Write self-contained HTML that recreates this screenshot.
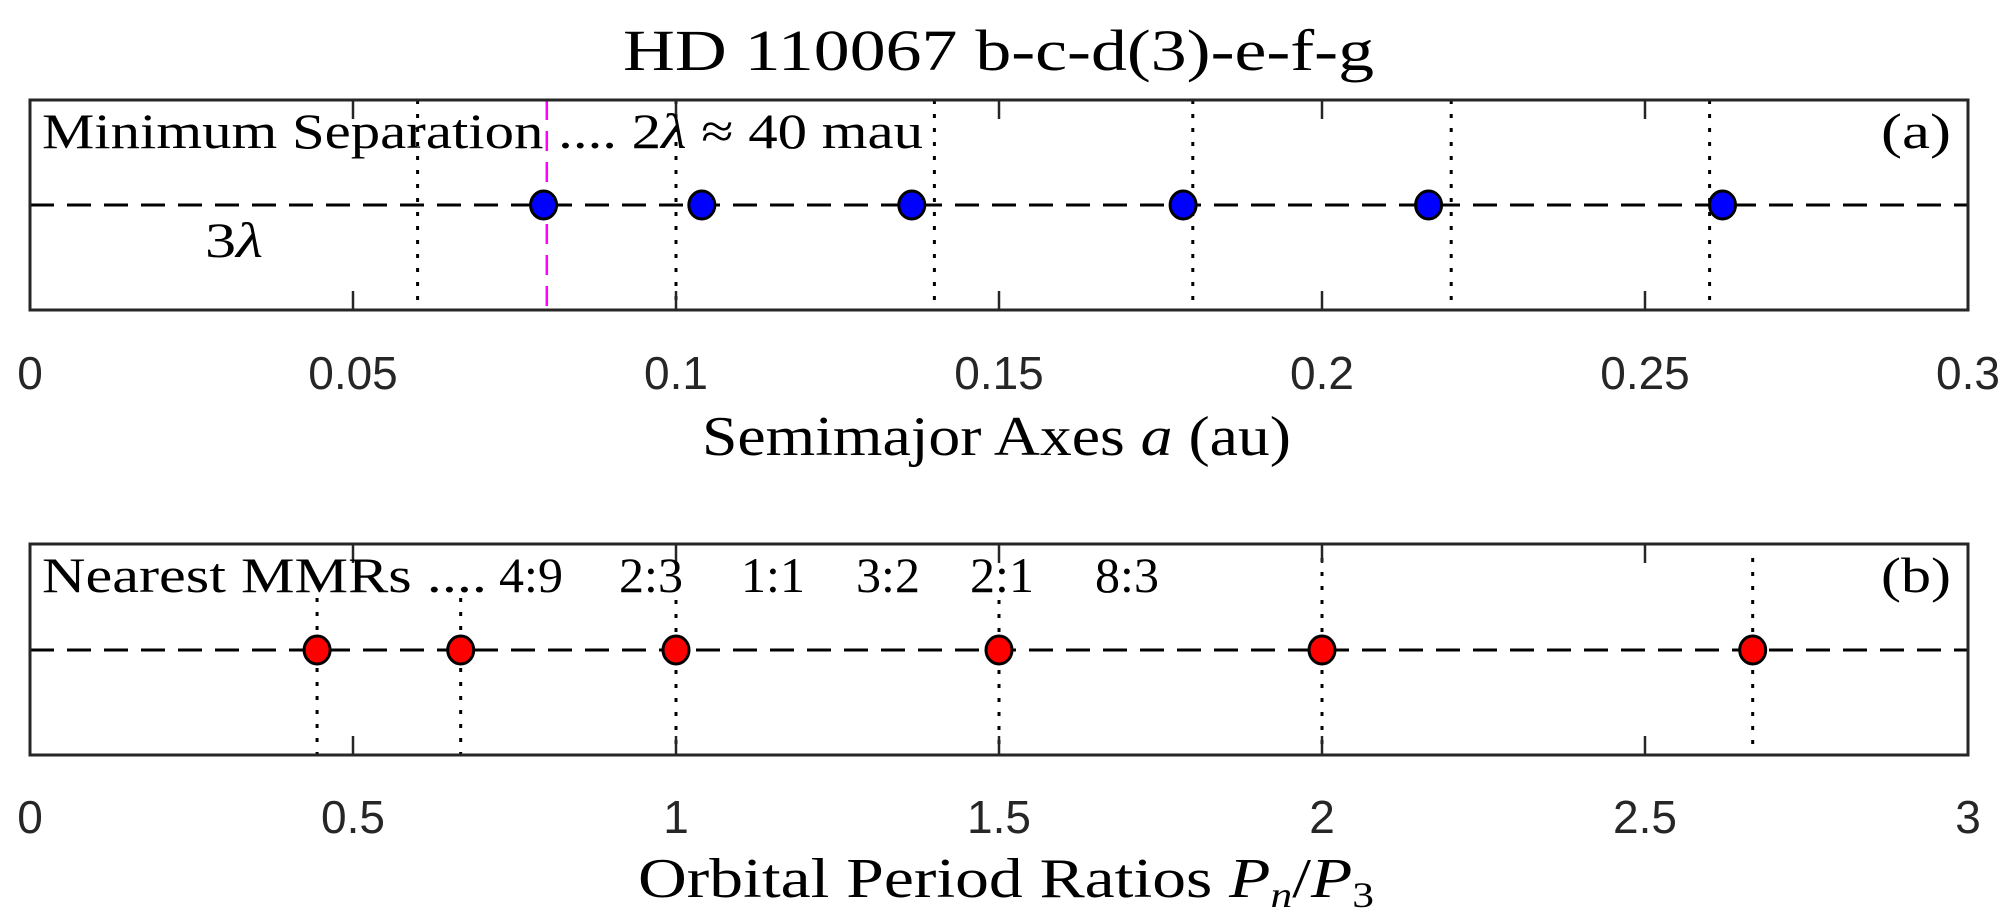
<!DOCTYPE html>
<html><head><meta charset="utf-8"><style>
html,body{margin:0;padding:0;background:#fff;}
svg{display:block;}
.serif{font-family:"Liberation Serif","DejaVu Serif",serif;fill:#000;}
.tick{font-family:"Liberation Sans","DejaVu Sans",sans-serif;fill:#262626;font-size:46px;}
</style></head><body>
<svg id="chart" width="2010" height="922" viewBox="0 0 2010 922" xmlns="http://www.w3.org/2000/svg">
<text class="serif" x="623" y="70" font-size="58" textLength="751" lengthAdjust="spacingAndGlyphs">HD 110067  b-c-d(3)-e-f-g</text>
</svg>
<script>
// Panel (a) data
const aTicks = [0, 0.05, 0.1, 0.15, 0.2, 0.25, 0.3];
const aTickLabels = ["0", "0.05", "0.1", "0.15", "0.2", "0.25", "0.3"];
const aPlanets = [0.0795, 0.1040, 0.1365, 0.1785, 0.2165, 0.2620];
const aGuides = [0.06, 0.10, 0.14, 0.18, 0.22, 0.26];
const aMinSep = 0.08;
// Panel (b) data
const bTicks = [0, 0.5, 1, 1.5, 2, 2.5, 3];
const bTickLabels = ["0", "0.5", "1", "1.5", "2", "2.5", "3"];
const bRatios = [0.4444, 0.6667, 1.0, 1.5, 2.0, 2.6667];
const bGuides = [0.4444, 0.6667, 1.0, 1.5, 2.0, 2.6667];

const NS = "http://www.w3.org/2000/svg";
const svg = document.getElementById('chart');
const L = 30, R = 1968;
function mk(tag, attrs, parent) {
  const e = document.createElementNS(NS, tag);
  for (const k in attrs) e.setAttribute(k, attrs[k]);
  (parent || svg).appendChild(e);
  return e;
}
function panel(cfg) {
  const g = mk('g', {});
  
  
  const xs = v => L + (v - cfg.min) / (cfg.max - cfg.min) * (R - L);
  const top = cfg.top, bot = cfg.bot, mid = cfg.mid;
  cfg.guides.forEach((v, i) => {
    const ln = mk('line', {x1: xs(v), x2: xs(v), y1: (cfg.guideTop ? cfg.guideTop[i] : top), y2: bot, stroke: '#000', 'stroke-width': 3, 'stroke-dasharray': '4 10'}, g);
    
    
  });
  if (cfg.minSep != null) {
    const ln = mk('line', {x1: xs(cfg.minSep), x2: xs(cfg.minSep), y1: top, y2: bot, stroke: '#ff00ff', 'stroke-width': 2.5, 'stroke-dasharray': '20 11'}, g);
    
    
  }
  const dl = mk('line', {x1: L, x2: R, y1: mid, y2: mid, stroke: '#000', 'stroke-width': 3, 'stroke-dasharray': '24 13'}, g);
  
  
  cfg.ticks.forEach((v, i) => {
    const x = xs(v);
    mk('line', {x1: x, x2: x, y1: top, y2: top + 19, stroke: '#262626', 'stroke-width': 2.5}, g);
    mk('line', {x1: x, x2: x, y1: bot, y2: bot - 19, stroke: '#262626', 'stroke-width': 2.5}, g);
    const t = mk('text', {x: x, y: cfg.tickY, 'text-anchor': 'middle', class: 'tick'}, g);
    t.textContent = cfg.tickLabels[i];
    
    
  });
  cfg.points.forEach(v => {
    const c = mk('ellipse', {cx: xs(v), cy: mid, rx: 13, ry: 14, fill: cfg.color, stroke: '#000', 'stroke-width': 3}, g);
    
    
  });
  const box = mk('rect', {x: L, y: top, width: R - L, height: bot - top, fill: 'none', stroke: '#262626', 'stroke-width': 3}, g);
  
  
}
panel({name: 'panel-a', min: 0, max: 0.3, top: 100, bot: 310, mid: 205, tickY: 389,
  ticks: aTicks, tickLabels: aTickLabels, points: aPlanets, guides: aGuides, minSep: aMinSep, color: '#0000ff'});
panel({name: 'panel-b', min: 0, max: 3, top: 544, bot: 755, mid: 650, tickY: 833,
  ticks: bTicks, tickLabels: bTickLabels, points: bRatios, guides: bGuides, color: '#ff0000',
  guideTop: [598, 598, 600, 600, 558, 558]});
</script>
<svg style="position:absolute;left:0;top:0" width="2010" height="922" xmlns="http://www.w3.org/2000/svg">
<text class="serif" x="42" y="148" font-size="50" textLength="881" lengthAdjust="spacingAndGlyphs">Minimum Separation .... 2<tspan font-style="italic">λ</tspan> ≈ 40 mau</text>
<text class="serif" x="205" y="257" font-size="50" textLength="58" lengthAdjust="spacingAndGlyphs">3<tspan font-style="italic">λ</tspan></text>
<text class="serif" x="1881" y="148" font-size="50" textLength="70" lengthAdjust="spacingAndGlyphs">(a)</text>
<text class="serif" x="702" y="455" font-size="56" textLength="589" lengthAdjust="spacingAndGlyphs">Semimajor Axes <tspan font-style="italic">a</tspan> (au)</text>
<text class="serif" x="42" y="592" font-size="50" textLength="445" lengthAdjust="spacingAndGlyphs">Nearest MMRs ....</text>
<text class="serif" x="531" y="592" font-size="50" text-anchor="middle">4:9</text>
<text class="serif" x="651" y="592" font-size="50" text-anchor="middle">2:3</text>
<text class="serif" x="773" y="592" font-size="50" text-anchor="middle">1:1</text>
<text class="serif" x="888" y="592" font-size="50" text-anchor="middle">3:2</text>
<text class="serif" x="1002" y="592" font-size="50" text-anchor="middle">2:1</text>
<text class="serif" x="1127" y="592" font-size="50" text-anchor="middle">8:3</text>
<text class="serif" x="1881" y="592" font-size="50" textLength="70" lengthAdjust="spacingAndGlyphs">(b)</text>
<text class="serif" x="638" y="897" font-size="56" textLength="736" lengthAdjust="spacingAndGlyphs">Orbital Period Ratios <tspan font-style="italic">P</tspan><tspan font-style="italic" font-size="36" dy="10">n</tspan><tspan dy="-10">/</tspan><tspan font-style="italic">P</tspan><tspan font-size="36" dy="10">3</tspan></text>
</svg>
</body></html>
